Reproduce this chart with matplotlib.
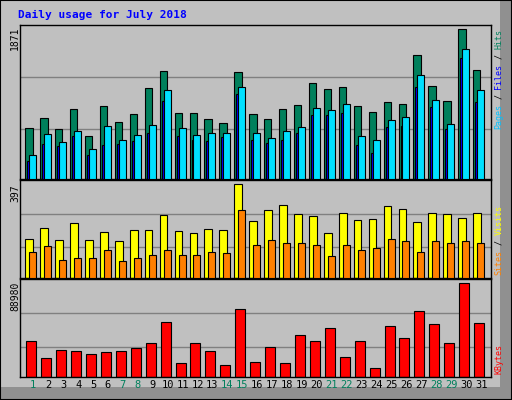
import matplotlib
matplotlib.use("Agg")
import matplotlib.pyplot as plt
import numpy as np
from matplotlib.patches import Rectangle

days = list(range(1, 32))
weekend = [1, 7, 8, 14, 15, 21, 22, 28, 29]

# panel 1 (zoom-pixel readings converted)
hits_y = [319,289,322,262,343,253,301,277,202,151,274,274,292,304,154,277,
          292,262,250,187,205,199,253,271,241,247,103,196,238,28,148]
pages_y = [397,337,361,328,382,313,355,340,310,208,319,340,334,334,199,334,
           349,328,316,259,265,247,343,355,295,286,163,235,307,85,208]
files_y = [415,367,373,343,397,370,367,358,334,238,343,355,358,346,217,355,
           364,355,334,280,280,274,370,391,316,313,199,256,322,112,241]
hits = [round((469-v)/441*1871) for v in hits_y]
files = [round((469-v)/441*1871) for v in files_y]
pages = [round((469-v)/441*1871) for v in pages_y]

visits_y = [655,622,658,607,658,634,661,628,628,583,631,637,625,628,493,601,
            568,553,580,586,637,577,598,595,556,565,604,577,580,592,577]
sites_y = [691,676,715,709,709,688,718,709,700,688,700,700,691,694,568,673,
           658,667,667,670,703,670,688,679,655,661,691,661,667,661,667]
visits = [round((769-v)/276*397) for v in visits_y]
sites = [round((769-v)/276*397) for v in sites_y]

kb_frac = [0.385,0.198,0.286,0.275,0.242,0.264,0.275,0.308,0.363,0.582,0.154,
           0.363,0.275,0.132,0.725,0.165,0.319,0.147,0.443,0.385,0.527,0.209,
           0.385,0.099,0.538,0.418,0.703,0.560,0.363,1.0,0.571]
kbytes = [round(f*88980) for f in kb_frac]

W, H = 512, 400
fig = plt.figure(figsize=(5.12, 4.0), dpi=100, facecolor="#C0C0C0")
fig.patches.append(Rectangle((0, 0), 1, 1, transform=fig.transFigure, fill=False,
                             edgecolor="black", lw=1.5))
fig.patches.append(Rectangle((500/W, 0), 12/W, 1, transform=fig.transFigure,
                             facecolor="#909090", edgecolor="none", zorder=-1))
fig.patches.append(Rectangle((0, 0), 1, 13/H, transform=fig.transFigure,
                             facecolor="#909090", edgecolor="none", zorder=-1))

def ax_px(l, t, r, b):
    return fig.add_axes([l/W, 1-b/H, (r-l)/W, (b-t)/H], facecolor="#C0C0C0")

xl = (0.11, 31.66)
x = np.array(days)
mono = "DejaVu Sans Mono"

def style(ax, ymax, grid):
    ax.set_xlim(*xl)
    ax.set_ylim(0, ymax)
    ax.set_xticks([]); ax.set_yticks([])
    for s in ax.spines.values():
        s.set_color("black"); s.set_linewidth(1)
    for g in grid:
        ax.axhline(g, color="#808080", lw=1, zorder=0)

ax1 = ax_px(20, 25, 491, 179)
style(ax1, 1926, [1871*0.333, 1871*0.68])
ax1.bar(x-0.536, hits, width=0.49, align="edge", color="#00805C", edgecolor="black", lw=0.8, zorder=2)
ax1.bar(x-0.40, files, width=0.16, align="edge", color="#0000FF", edgecolor="black", lw=0.8, zorder=3)
ax1.bar(x-0.27, pages, width=0.47, align="edge", color="#00E0FF", edgecolor="black", lw=0.8, zorder=4)

ax2 = ax_px(20, 180, 491, 278)
style(ax2, 415.6, [397*0.326, 397*0.685])
ax2.bar(x-0.536, visits, width=0.52, align="edge", color="#FFFF00", edgecolor="black", lw=0.8, zorder=2)
ax2.bar(x-0.27, sites, width=0.47, align="edge", color="#FF8000", edgecolor="black", lw=0.8, zorder=3)

ax3 = ax_px(20, 279, 491, 377)
style(ax3, 92890*1.0, [88980*0.319, 88980*0.681])
ax3.bar(x-0.47, kbytes, width=0.67, align="edge", color="#FF0000", edgecolor="black", lw=0.8, zorder=2)

for d in days:
    ax3.text(d, -0.03, str(d), transform=ax3.get_xaxis_transform(), ha="center", va="top",
             fontsize=7.5, family=mono, color="#00805C" if d in weekend else "black")

fig.text(18/W, 1-15/H, "Daily usage for July 2018", color="#0000FF", fontsize=8,
         family=mono, weight="bold", ha="left", va="center")

for top, lab in [(27, "1871"), (184, "397"), (282, "88980")]:
    fig.text(15/W, 1-top/H, lab, rotation=90, ha="center", va="top", fontsize=7, family=mono)

def side(pieces, bottom_px, xpx=499, cw=5.0):
    y = bottom_px
    for s, c in pieces:
        L = len(s)*cw
        fig.text(xpx/W, 1-(y-L/2)/H, s, rotation=90, ha="center", va="center",
                 fontsize=6, family=mono, color=c)
        y -= L

side([("Pages", "#00C0FF"), (" / ", "black"), ("Files", "#0000FF"), (" / ", "black"), ("Hits", "#00805C")], 129)
side([("Sites", "#FF8000"), (" / ", "black"), ("Visits", "#FFFF00")], 275)
side([("KBytes", "#FF0000")], 374)

fig.savefig("out.png", dpi=100, facecolor=fig.get_facecolor())
